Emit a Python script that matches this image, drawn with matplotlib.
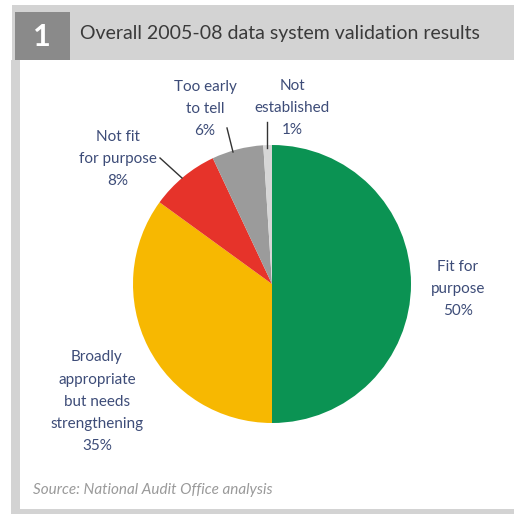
import matplotlib
matplotlib.use("Agg")
import matplotlib.pyplot as plt
from matplotlib.patches import Rectangle

# ── data ──────────────────────────────────────────────────────────────────────
categories = ["Fit for purpose", "Broadly appropriate but needs strengthening",
              "Not fit for purpose", "Too early to tell", "Not established"]
shares     = [50, 35, 8, 6, 1]
colors     = ["#0b9353", "#f7b801", "#e6332a", "#9b9b9b", "#d6d6d6"]
labels     = ["Fit for\npurpose\n50%",
              "Broadly\nappropriate\nbut needs\nstrengthening\n35%",
              "Not fit\nfor purpose\n8%",
              "Too early\nto tell\n6%",
              "Not\nestablished\n1%"]

TITLE  = "Overall 2005-08 data system validation results"
SOURCE = "Source: National Audit Office analysis"

W = H = 514
def Y(y):  # picture y (top-down) -> axes y
    return H - y

FRAME = "#d3d3d3"
TXT   = "#3d4c78"

fig = plt.figure(figsize=(5.14, 5.14), dpi=100)
ax = fig.add_axes([0, 0, 1, 1])

# ── frame ─────────────────────────────────────────────────────────────────────
ax.add_patch(Rectangle((12, Y(60)), W - 12, 55, color=FRAME, lw=0))
ax.add_patch(Rectangle((11, Y(512)), 9, 452, color=FRAME, lw=0))
ax.add_patch(Rectangle((11, 0), W - 11, 5, color=FRAME, lw=0))
ax.add_patch(Rectangle((15, Y(60)), 55, 48, color="#8a8a8a", lw=0))
ax.text(42, Y(37), "1", color="white", fontsize=22, fontweight="bold",
        ha="center", va="center", family="Lato")
ax.text(80, Y(33), TITLE, color="#3a3a3a", fontsize=14, ha="left",
        va="center", family="Lato")

# ── pie ───────────────────────────────────────────────────────────────────────
ax.pie(shares, colors=colors, startangle=90, counterclock=False,
       center=(272, Y(284)), radius=139, frame=True,
       wedgeprops=dict(linewidth=0))
ax.set_xlim(0, W)
ax.set_ylim(0, H)
ax.set_aspect("auto")
ax.axis("off")

# ── labels ────────────────────────────────────────────────────────────────────
label_pos = [(458, 289), (97, 402), (118, 159), (205, 109), (292, 108)]
for txt, (x, y) in zip(labels, label_pos):
    ax.text(x, Y(y), txt, color=TXT, fontsize=11, ha="center", va="center",
            family="Lato", linespacing=1.75)

leaders = [((160, 158), (182, 178)), ((227, 128), (233, 152)),
           ((267, 122), (267, 148))]
for (x0, y0), (x1, y1) in leaders:
    ax.plot([x0, x1], [Y(y0), Y(y1)], color="#333333", lw=1)

ax.text(33, Y(490), SOURCE, color="#9a9a9a", fontsize=11, style="italic",
        ha="left", va="center", family="Lato")

plt.savefig("out.png", dpi=100)
